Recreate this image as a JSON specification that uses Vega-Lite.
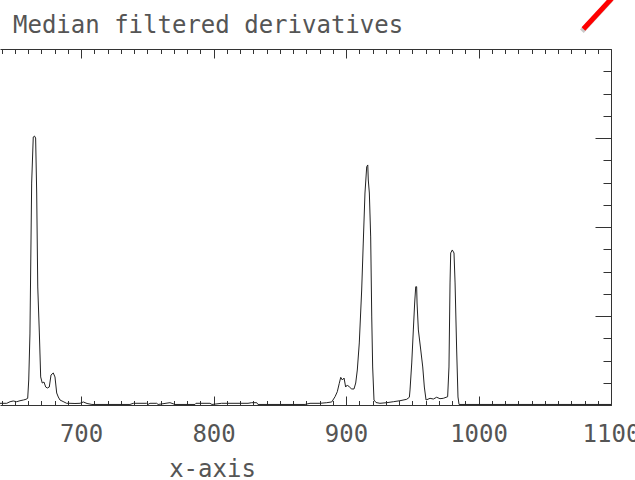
{
  "$schema": "https://vega.github.io/schema/vega-lite/v6.json",
  "width": 611,
  "height": 356,
  "autosize": "none",
  "padding": {"left": 0, "top": 49, "right": 24, "bottom": 75},
  "background": "white",
  "config": {"view": {"stroke": null}},
  "title": {"text": "Median filtered derivatives", "anchor": "start", "frame": "group", "font": "DejaVu Sans Mono", "fontSize": 24, "fontWeight": "normal", "color": "#555", "offset": 0, "baseline": "alphabetic", "dx": 13, "dy": 62},
  "datasets": {
    "curve": [
      {"x":638.8,"y":0.019},{"x":643.9,"y":0.019},{"x":646.4,"y":0.037},{"x":648.8,"y":0.045},{"x":651.4,"y":0.037},{"x":653.9,"y":0.048},{"x":656.4,"y":0.056},{"x":658.4,"y":0.064},{"x":659.7,"y":0.075},{"x":660.5,"y":0.281},{"x":661.4,"y":0.798},{"x":662.7,"y":2.494},{"x":663.9,"y":3.011},{"x":664.8,"y":3.022},{"x":665.7,"y":3.0},{"x":666.5,"y":2.382},{"x":667.3,"y":1.326},{"x":668.5,"y":0.809},{"x":669.5,"y":0.315},{"x":670.7,"y":0.247},{"x":672.0,"y":0.258},{"x":673.3,"y":0.202},{"x":674.5,"y":0.191},{"x":676.0,"y":0.202},{"x":677.3,"y":0.337},{"x":679.0,"y":0.360},{"x":680.3,"y":0.315},{"x":681.6,"y":0.135},{"x":682.8,"y":0.090},{"x":684.1,"y":0.056},{"x":686.4,"y":0.039},{"x":689.1,"y":0.019},{"x":691.6,"y":0.019},{"x":695.4,"y":0.017},{"x":699.2,"y":0.019},{"x":701.7,"y":0.034},{"x":704.5,"y":0.017},{"x":708.2,"y":0.006},{"x":736.9,"y":0.006},{"x":739.4,"y":0.019},{"x":749.5,"y":0.019},{"x":750.5,"y":0.006},{"x":752.0,"y":0.019},{"x":757.1,"y":0.019},{"x":758.1,"y":0.006},{"x":767.1,"y":0.026},{"x":770.9,"y":0.006},{"x":786.0,"y":0.006},{"x":786.7,"y":0.019},{"x":797.3,"y":0.019},{"x":798.8,"y":0.006},{"x":806.1,"y":0.019},{"x":820.0,"y":0.019},{"x":826.0,"y":0.019},{"x":828.8,"y":0.026},{"x":832.6,"y":0.026},{"x":833.5,"y":0.006},{"x":869.0,"y":0.006},{"x":872.8,"y":0.019},{"x":880.3,"y":0.019},{"x":885.4,"y":0.026},{"x":889.2,"y":0.034},{"x":891.7,"y":0.093},{"x":893.4,"y":0.149},{"x":894.9,"y":0.244},{"x":896.0,"y":0.311},{"x":897.2,"y":0.281},{"x":898.5,"y":0.303},{"x":899.7,"y":0.202},{"x":901.0,"y":0.225},{"x":902.5,"y":0.202},{"x":904.3,"y":0.180},{"x":906.0,"y":0.180},{"x":907.3,"y":0.247},{"x":908.5,"y":0.393},{"x":910.0,"y":0.697},{"x":911.8,"y":1.292},{"x":913.0,"y":1.820},{"x":914.3,"y":2.382},{"x":915.6,"y":2.678},{"x":916.4,"y":2.697},{"x":916.8,"y":2.528},{"x":917.6,"y":2.382},{"x":918.6,"y":1.888},{"x":919.4,"y":0.989},{"x":920.1,"y":0.427},{"x":921.1,"y":0.056},{"x":922.6,"y":0.028},{"x":925.6,"y":0.019},{"x":930.7,"y":0.026},{"x":935.7,"y":0.037},{"x":940.7,"y":0.048},{"x":945.8,"y":0.064},{"x":947.8,"y":0.087},{"x":948.3,"y":0.169},{"x":949.6,"y":0.472},{"x":950.8,"y":0.843},{"x":951.8,"y":1.146},{"x":952.6,"y":1.329},{"x":953.3,"y":1.329},{"x":953.6,"y":1.146},{"x":954.6,"y":0.843},{"x":956.4,"y":0.618},{"x":957.9,"y":0.427},{"x":959.1,"y":0.202},{"x":960.4,"y":0.056},{"x":963.4,"y":0.075},{"x":965.9,"y":0.067},{"x":968.4,"y":0.087},{"x":970.9,"y":0.071},{"x":973.4,"y":0.075},{"x":976.7,"y":0.093},{"x":977.7,"y":0.427},{"x":978.5,"y":1.371},{"x":979.0,"y":1.708},{"x":980.2,"y":1.742},{"x":981.5,"y":1.708},{"x":982.3,"y":1.371},{"x":983.5,"y":0.618},{"x":984.5,"y":0.090},{"x":985.3,"y":0.006},{"x":1100,"y":0.006}
    ],
    "shadow": [{"x": 1078.0, "y": 4.2, "x2": 1100.5, "y2": 4.56}],
    "marker": [{"x": 1079.2, "y": 4.225, "x2": 1101.5, "y2": 4.584}]
  },
  "layer": [
    {
      "data": {"name": "curve"},
      "mark": {"type": "line", "color": "#222", "strokeWidth": 1, "interpolate": "linear"},
      "encoding": {
        "x": {"field": "x", "type": "quantitative", "scale": {"domain": [638.8, 1100], "nice": false, "zero": false},
          "axis": {"orient": "bottom", "values": [640,650,660,670,680,690,700,710,720,730,740,750,760,770,780,790,800,810,820,830,840,850,860,870,880,890,900,910,920,930,940,950,960,970,980,990,1000,1010,1020,1030,1040,1050,1060,1070,1080,1090,1100],
            "format": "d", "grid": false, "domainColor": "#333", "tickColor": "#333",
            "tickSize": {"condition": {"test": "datum.value % 100 === 0", "value": -9}, "value": -4.5},
            "labelExpr": "datum.value % 100 === 0 ? datum.label : ''",
            "labelFont": "DejaVu Sans Mono", "labelFontSize": 24, "labelColor": "#555", "labelBaseline": "alphabetic", "labelPadding": 45, "labelOverlap": false, "labelFlush": false, "labelBound": false,
            "title": "x-axis", "titleFont": "DejaVu Sans Mono", "titleFontSize": 24, "titleFontWeight": "normal", "titleColor": "#555", "titleX": 212, "titleY": 71, "titleBaseline": "alphabetic", "titleAlign": "center", "titleAnchor": null}},
        "y": {"field": "y", "type": "quantitative", "scale": {"domain": [0, 4], "nice": false, "zero": false},
          "axis": {"orient": "right", "values": [0,0.25,0.5,0.75,1,1.25,1.5,1.75,2,2.25,2.5,2.75,3,3.25,3.5,3.75,4],
            "grid": false, "labels": false, "title": null, "domainColor": "#333", "tickColor": "#333",
            "tickSize": {"condition": {"test": "datum.value % 1 === 0", "value": -16}, "value": -8}}}
      }
    },
    {
      "data": {"name": "shadow"},
      "mark": {"type": "rule", "color": "#888", "opacity": 0.45, "strokeWidth": 5, "clip": false},
      "encoding": {
        "x": {"field": "x", "type": "quantitative", "scale": {"domain": [638.8, 1100], "nice": false, "zero": false}, "axis": null},
        "x2": {"field": "x2"},
        "y": {"field": "y", "type": "quantitative", "scale": {"domain": [0, 4], "nice": false, "zero": false}, "axis": null},
        "y2": {"field": "y2"}
      }
    },
    {
      "data": {"name": "marker"},
      "mark": {"type": "rule", "color": "#ff0000", "strokeWidth": 5, "clip": false},
      "encoding": {
        "x": {"field": "x", "type": "quantitative", "scale": {"domain": [638.8, 1100], "nice": false, "zero": false},
          "axis": {"orient": "top", "values": [640,650,660,670,680,690,700,710,720,730,740,750,760,770,780,790,800,810,820,830,840,850,860,870,880,890,900,910,920,930,940,950,960,970,980,990,1000,1010,1020,1030,1040,1050,1060,1070,1080,1090,1100],
            "grid": false, "labels": false, "title": null, "domainColor": "#333", "tickColor": "#333",
            "tickSize": {"condition": {"test": "datum.value % 100 === 0", "value": -9}, "value": -4.5}}},
        "x2": {"field": "x2"},
        "y": {"field": "y", "type": "quantitative", "scale": {"domain": [0, 4], "nice": false, "zero": false}, "axis": null},
        "y2": {"field": "y2"}
      }
    }
  ],
  "resolve": {"axis": {"x": "independent", "y": "independent"}}
}
